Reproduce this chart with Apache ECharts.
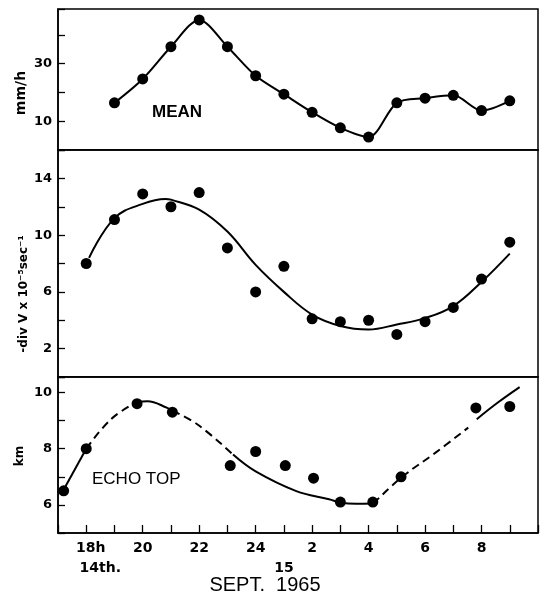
<!DOCTYPE html>
<html>
<head>
<meta charset="utf-8">
<script src="https://cdn.jsdelivr.net/npm/echarts@6/dist/echarts.min.js"></script>
<style>
  html, body { margin: 0; padding: 0; background: #fff; }
  #chart { width: 549px; height: 600px; }
</style>
</head>
<body>
<div id="chart"></div>
<script>
// time in hours from 0h on the 14th (25 = 1h on the 15th)
const meanHours = [19, 20, 21, 22, 23, 24, 25, 26, 27, 28, 29, 30, 31, 32, 33];
const meanRain = [16.4, 24.7, 35.9, 45.2, 35.9, 25.8, 19.4, 13.1, 7.7, 4.5, 16.4, 18.0, 19.0, 13.7, 17.1];

const divHours = [18, 19, 20, 21, 22, 23, 24, 25, 26, 27, 28, 29, 30, 31, 32, 33];
const divValues = [8.0, 11.1, 12.9, 12.0, 13.0, 9.1, 6.0, 7.8, 4.1, 3.9, 4.0, 3.0, 3.9, 4.9, 6.9, 9.5];
const divFitHours = [18.1, 19, 20, 20.8, 21, 22, 23, 24, 25, 26, 27, 28, 29, 30, 31, 32, 33];
const divFitValues = [8.4, 11.2, 12.2, 12.55, 12.5, 11.8, 10.25, 7.9, 6.0, 4.4, 3.6, 3.35, 3.7, 4.15, 5.0, 6.7, 8.7];

const echoHours = [17.2, 18, 19.8, 21.05, 23.1, 24, 25.05, 26.05, 27, 28.15, 29.15, 31.8, 33];
const echoTops = [6.5, 8.0, 9.6, 9.3, 7.4, 7.9, 7.4, 6.95, 6.1, 6.1, 7.0, 9.45, 9.5];
const echoFitHours = [17.18, 18, 18.88, 19.77, 20.17, 20.87, 21.05, 21.93, 23.2, 24, 25.44, 26.6, 27.02, 27.55, 28.17, 29.17, 30.36, 31.53, 31.83, 32.59, 33.35];
const echoFitValues = [6.5, 8.0, 9.05, 9.65, 9.69, 9.45, 9.35, 8.87, 7.79, 7.19, 6.49, 6.2, 6.08, 6.04, 6.05, 6.98, 7.85, 8.75, 9.05, 9.65, 10.19];
// pieces of the fitted echo-top curve: [first index, last index, line type]
const echoFitPieces = [[0, 1, 'solid'], [1, 3, 'dashed'], [3, 6, 'solid'], [6, 8, 'dashed'], [8, 14, 'solid'], [14, 17, 'dashed'], [18, 20, 'solid']];

const meanTickLabels = [10, 30];
const divTickLabels = [2, 6, 10, 14];
const echoTickLabels = [6, 8, 10];

const chart = echarts.init(document.getElementById('chart'));
const pairs = (xs, ys) => xs.map((x, i) => [x, ys[i]]);
const tickFont = { fontFamily: 'DejaVu Sans', fontWeight: 'bold', fontSize: 13, color: '#000' };
const frame = { show: true, borderColor: '#000', borderWidth: 1.5, backgroundColor: '#fff' };
const black = '#000';
const dot = { color: black, opacity: 1 };

function xAxisBase(gridIndex) {
  return {
    type: 'value', gridIndex: gridIndex, min: 17, max: 34, interval: 1,
    axisLine: { lineStyle: { color: black, width: 1.5 } },
    axisTick: { show: false },
    axisLabel: { show: false },
    splitLine: { show: false }
  };
}
function yAxisBase(gridIndex, min, max, interval, shown) {
  return {
    type: 'value', gridIndex: gridIndex, min: min, max: max, interval: interval,
    axisLine: { show: true, lineStyle: { color: black, width: 1.5 } },
    axisTick: { show: true, inside: true, length: 7, lineStyle: { color: black, width: 1.3 } },
    axisLabel: Object.assign({ margin: 6, formatter: (v) => (shown.includes(v) ? String(v) : '') }, tickFont),
    splitLine: { show: false }
  };
}

const bottomAxis = xAxisBase(2);
bottomAxis.axisTick = { show: true, inside: true, length: 8, lineStyle: { color: black, width: 1.3 } };
bottomAxis.axisLabel = Object.assign({
  show: true, margin: 8,
  formatter: (v) => {
    if (v === 18) return '{h|18h}';
    if (v >= 20 && v <= 32 && v % 2 === 0) return String(v > 24 ? v - 24 : v);
    return '';
  },
  rich: { h: Object.assign({ padding: [0, 0, 0, 9] }, tickFont, { fontSize: 14 }) }
}, tickFont, { fontSize: 14 });

const dayAxis = {
  type: 'value', gridIndex: 2, min: 17, max: 34, interval: 0.5, position: 'bottom',
  axisLine: { show: false }, axisTick: { show: false }, splitLine: { show: false },
  axisLabel: Object.assign({
    margin: 28,
    formatter: (v) => (v === 18.5 ? '14th.' : v === 25 ? '15' : '')
  }, tickFont, { fontSize: 14 })
};

const series = [
  {
    type: 'line', xAxisIndex: 0, yAxisIndex: 0, data: pairs(meanHours, meanRain),
    smooth: 0.3, symbol: 'circle', symbolSize: 11,
    itemStyle: dot, lineStyle: { color: black, width: 2 }
  },
  {
    type: 'line', xAxisIndex: 1, yAxisIndex: 1, data: pairs(divFitHours, divFitValues),
    smooth: 0.4, showSymbol: false, lineStyle: { color: black, width: 2 }
  },
  {
    type: 'scatter', xAxisIndex: 1, yAxisIndex: 1, data: pairs(divHours, divValues),
    symbolSize: 11, itemStyle: dot, z: 5
  }
];
echoFitPieces.forEach(([a, b, kind]) => {
  series.push({
    type: 'line', xAxisIndex: 2, yAxisIndex: 2,
    data: pairs(echoFitHours.slice(a, b + 1), echoFitValues.slice(a, b + 1)),
    smooth: 0.4, showSymbol: false,
    lineStyle: { color: black, width: 2, type: kind === 'dashed' ? [8, 5] : 'solid' }
  });
});
series.push({
  type: 'scatter', xAxisIndex: 2, yAxisIndex: 2, data: pairs(echoHours, echoTops),
  symbolSize: 11, itemStyle: dot, z: 5
});

const labelFont = { fontFamily: 'Liberation Sans', fill: black };
const nameFont = { fontFamily: 'DejaVu Sans', fontWeight: 'bold', fill: black, align: 'center', verticalAlign: 'middle' };

chart.setOption({
  animation: false,
  backgroundColor: '#fff',
  grid: [
    Object.assign({ left: 58, right: 11, top: 9, height: 141 }, frame),
    Object.assign({ left: 58, right: 11, top: 150, height: 227 }, frame),
    Object.assign({ left: 58, right: 11, top: 377, height: 156 }, frame)
  ],
  xAxis: [xAxisBase(0), xAxisBase(1), bottomAxis, dayAxis],
  yAxis: [
    yAxisBase(0, 0, 49, 10, meanTickLabels),
    yAxisBase(1, 0, 16, 2, divTickLabels),
    yAxisBase(2, 5, 10.55, 1, echoTickLabels)
  ],
  series: series,
  graphic: [
    { type: 'text', left: 152, top: 104, style: Object.assign({ text: 'MEAN', fontSize: 17, fontWeight: 'bold' }, labelFont) },
    { type: 'text', left: 92, top: 471, style: Object.assign({ text: 'ECHO TOP', fontSize: 17 }, labelFont) },
    { type: 'text', x: 265, y: 585, style: Object.assign({ text: 'SEPT.  1965', fontSize: 20 }, labelFont, { align: 'center', verticalAlign: 'middle' }) },
    { type: 'text', x: 21, y: 93, rotation: Math.PI / 2, style: Object.assign({ text: 'mm/h', fontSize: 14 }, nameFont) },
    { type: 'text', x: 24, y: 294, rotation: Math.PI / 2, style: Object.assign({ text: '-div V x 10\u207B\u2075sec\u207B\u00B9', fontSize: 12 }, nameFont) },
    { type: 'text', x: 20, y: 456, rotation: Math.PI / 2, style: Object.assign({ text: 'km', fontSize: 12 }, nameFont) }
  ]
});
</script>
</body>
</html>
